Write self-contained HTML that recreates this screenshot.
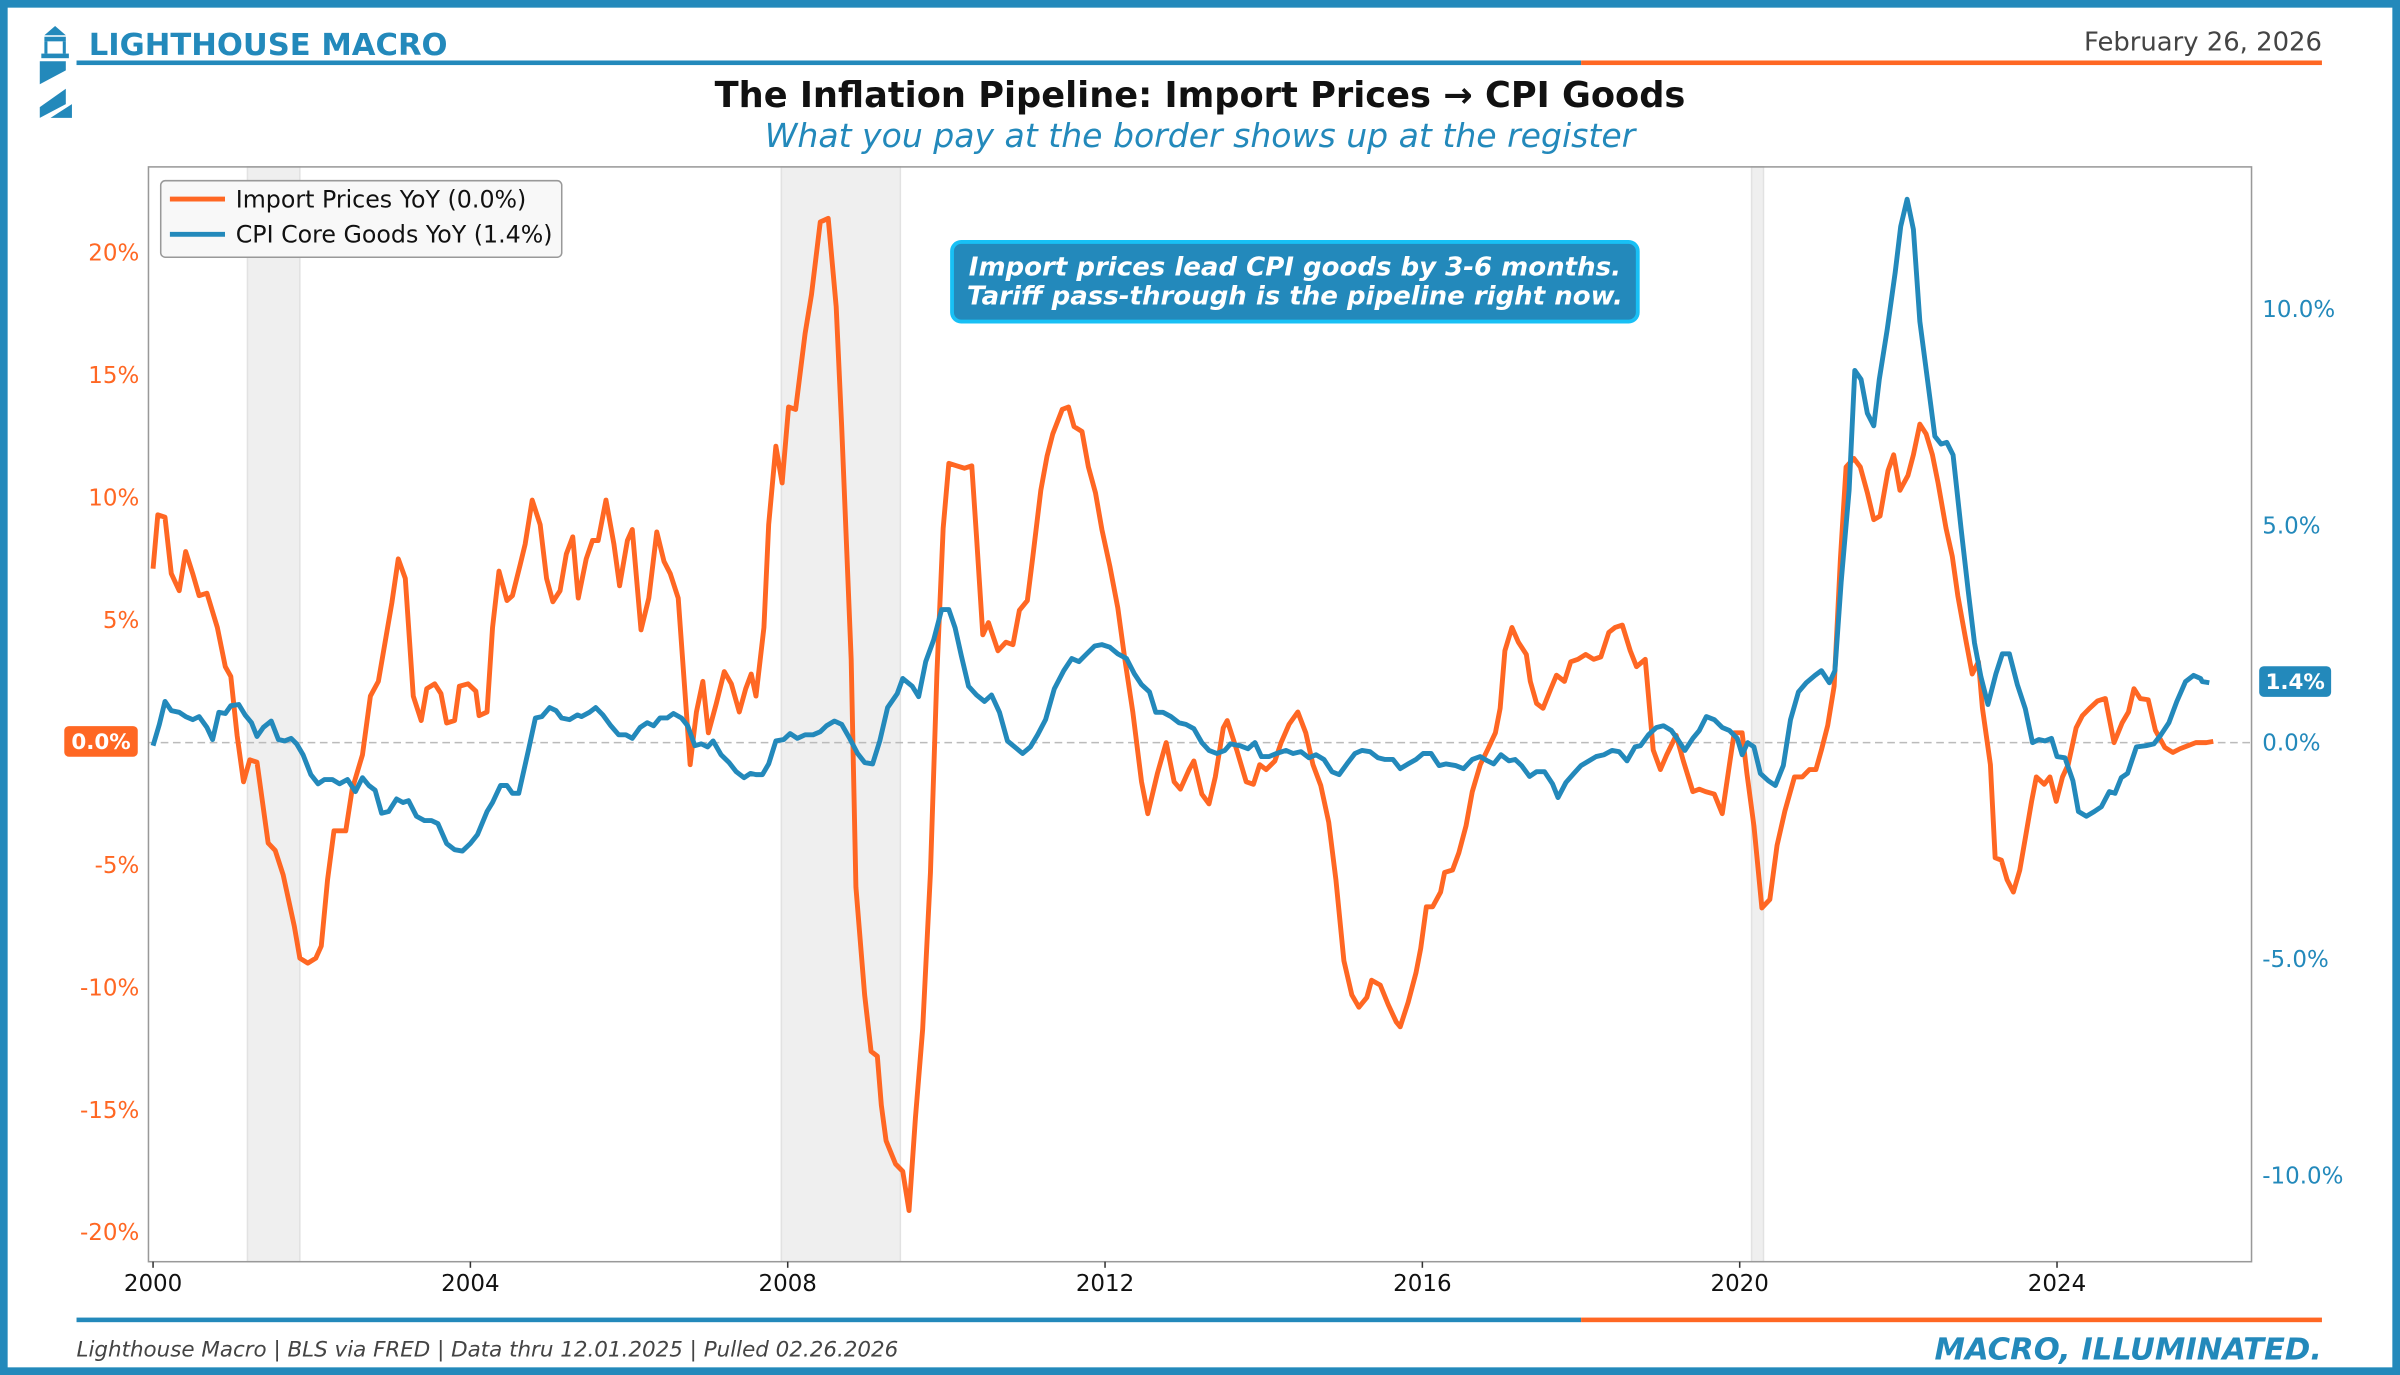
<!DOCTYPE html>
<html><head><meta charset="utf-8"><style>
html,body{margin:0;padding:0;background:#fff;}
svg{display:block;font-family:"DejaVu Sans","Liberation Sans",sans-serif;}
</style></head><body>
<svg id="chart" width="2400" height="1375" viewBox="0 0 1568 898" preserveAspectRatio="none" xmlns="http://www.w3.org/2000/svg">
<rect x="0" y="0" width="1568" height="898" fill="#fff"/>
<rect x="2.5" y="2.5" width="1563" height="893" fill="none" stroke="#2389bb" stroke-width="5"/>
<g fill="#2389bb">
<polygon points="36,17 29,23 43,23"/>
<rect x="29" y="24" width="14" height="3"/>
<rect x="29" y="27" width="2" height="8"/><rect x="41" y="27" width="2" height="8"/>
<rect x="27" y="35" width="18" height="3"/>
<polygon points="26,40 43,40 43,46 26,55"/>
<polygon points="26,70 43,58 43,68 26,77"/>
<polygon points="33,77 47,77 47,68"/>
</g>
<text x="58" y="36" font-size="20" font-weight="bold" fill="#2389bb">LIGHTHOUSE MACRO</text>
<text x="1517" y="33" font-size="16.9" fill="#444" text-anchor="end">February 26, 2026</text>
<rect x="50" y="39.5" width="983" height="3" fill="#2389bb"/>
<rect x="1033" y="39.5" width="484" height="3" fill="#ff6723"/>
<text x="784" y="70" font-size="23" font-weight="bold" fill="#111" text-anchor="middle">The Inflation Pipeline: Import Prices → CPI Goods</text>
<text x="784" y="96" font-size="21.6" font-style="italic" fill="#2389bb" text-anchor="middle">What you pay at the border shows up at the register</text>
<g id="plot"></g>
<rect x="50" y="860.5" width="983" height="3" fill="#2389bb"/>
<rect x="1033" y="860.5" width="484" height="3" fill="#ff6723"/>
<text x="50" y="886" font-size="14" font-style="italic" fill="#444">Lighthouse Macro | BLS via FRED | Data thru 12.01.2025 | Pulled 02.26.2026</text>
<text x="1517" y="888" font-size="20" font-style="italic" font-weight="bold" fill="#2389bb" text-anchor="end">MACRO, ILLUMINATED.</text>
</svg>
<script>
const importDates=[2000.00,2000.06,2000.15,2000.23,2000.33,2000.41,2000.50,2000.58,2000.68,2000.81,2000.91,2000.98,2001.06,2001.14,2001.22,2001.31,2001.45,2001.54,2001.64,2001.78,2001.85,2001.95,2002.05,2002.12,2002.20,2002.28,2002.35,2002.43,2002.51,2002.64,2002.74,2002.84,2003.01,2003.09,2003.18,2003.28,2003.38,2003.45,2003.55,2003.63,2003.70,2003.80,2003.86,2003.97,2004.07,2004.11,2004.21,2004.28,2004.36,2004.46,2004.53,2004.63,2004.69,2004.78,2004.88,2004.96,2005.04,2005.13,2005.21,2005.29,2005.36,2005.46,2005.54,2005.61,2005.71,2005.81,2005.88,2005.98,2006.04,2006.15,2006.25,2006.35,2006.44,2006.52,2006.62,2006.77,2006.85,2006.93,2007.00,2007.10,2007.20,2007.29,2007.39,2007.47,2007.54,2007.60,2007.70,2007.76,2007.85,2007.93,2008.01,2008.10,2008.22,2008.30,2008.41,2008.51,2008.61,2008.68,2008.80,2008.86,2008.97,2009.05,2009.13,2009.18,2009.24,2009.36,2009.45,2009.53,2009.61,2009.70,2009.80,2009.88,2009.96,2010.03,2010.13,2010.23,2010.32,2010.38,2010.46,2010.53,2010.65,2010.75,2010.84,2010.92,2011.02,2011.09,2011.19,2011.27,2011.34,2011.46,2011.54,2011.61,2011.71,2011.79,2011.88,2011.96,2012.06,2012.16,2012.25,2012.35,2012.46,2012.54,2012.66,2012.77,2012.87,2012.95,2013.06,2013.12,2013.22,2013.31,2013.39,2013.49,2013.54,2013.66,2013.78,2013.87,2013.95,2014.03,2014.14,2014.22,2014.32,2014.43,2014.53,2014.62,2014.72,2014.82,2014.91,2015.01,2015.11,2015.20,2015.30,2015.36,2015.47,2015.57,2015.67,2015.72,2015.82,2015.92,2015.98,2016.05,2016.13,2016.23,2016.28,2016.38,2016.46,2016.55,2016.63,2016.73,2016.82,2016.92,2016.98,2017.04,2017.13,2017.21,2017.31,2017.36,2017.44,2017.52,2017.62,2017.69,2017.79,2017.87,2017.96,2018.06,2018.16,2018.25,2018.35,2018.43,2018.52,2018.62,2018.70,2018.81,2018.91,2019.00,2019.08,2019.20,2019.29,2019.41,2019.49,2019.57,2019.68,2019.78,2019.87,2019.93,2020.03,2020.09,2020.18,2020.28,2020.38,2020.47,2020.57,2020.69,2020.79,2020.88,2020.96,2021.03,2021.11,2021.19,2021.27,2021.34,2021.44,2021.52,2021.61,2021.69,2021.77,2021.87,2021.94,2022.02,2022.12,2022.19,2022.27,2022.35,2022.43,2022.50,2022.60,2022.68,2022.75,2022.85,2022.93,2023.01,2023.06,2023.16,2023.22,2023.30,2023.37,2023.45,2023.53,2023.60,2023.68,2023.74,2023.84,2023.91,2023.99,2024.07,2024.14,2024.24,2024.32,2024.41,2024.51,2024.61,2024.72,2024.82,2024.90,2024.97,2025.05,2025.15,2025.24,2025.36,2025.46,2025.55,2025.67,2025.75,2025.88,2025.97];
const importValues=[7.1,9.3,9.2,6.9,6.2,7.8,6.9,6.0,6.1,4.7,3.1,2.7,0.3,-1.6,-0.7,-0.8,-4.1,-4.4,-5.4,-7.5,-8.8,-9.0,-8.8,-8.3,-5.6,-3.6,-3.6,-3.6,-1.9,-0.5,1.9,2.5,5.7,7.5,6.7,1.9,0.9,2.2,2.4,2.0,0.8,0.9,2.3,2.4,2.1,1.1,1.25,4.7,7.0,5.8,6.0,7.3,8.1,9.9,8.9,6.7,5.75,6.2,7.7,8.4,5.9,7.5,8.25,8.25,9.9,8.1,6.4,8.25,8.7,4.6,5.9,8.6,7.4,6.9,5.9,-0.9,1.25,2.5,0.4,1.6,2.9,2.4,1.25,2.2,2.8,1.9,4.7,8.9,12.1,10.6,13.7,13.6,16.7,18.3,21.25,21.4,17.8,12.9,3.4,-5.9,-10.3,-12.6,-12.8,-14.8,-16.25,-17.2,-17.5,-19.1,-15.3,-11.7,-5.3,2.8,8.75,11.4,11.3,11.2,11.3,8.4,4.4,4.9,3.75,4.1,4.0,5.4,5.8,7.6,10.3,11.7,12.6,13.6,13.7,12.9,12.7,11.25,10.2,8.7,7.2,5.5,3.4,1.25,-1.6,-2.9,-1.25,0,-1.6,-1.9,-1.1,-0.75,-2.1,-2.5,-1.4,0.6,0.9,-0.3,-1.6,-1.7,-0.9,-1.1,-0.75,0,0.75,1.25,0.4,-0.9,-1.75,-3.25,-5.6,-8.9,-10.3,-10.8,-10.4,-9.7,-9.9,-10.7,-11.4,-11.6,-10.6,-9.4,-8.4,-6.7,-6.7,-6.1,-5.3,-5.2,-4.5,-3.4,-2.0,-0.9,-0.3,0.4,1.4,3.75,4.7,4.1,3.6,2.5,1.6,1.4,2.2,2.75,2.5,3.3,3.4,3.6,3.4,3.5,4.5,4.7,4.8,3.75,3.1,3.4,-0.3,-1.1,-0.5,0.3,-0.75,-2.0,-1.9,-2.0,-2.1,-2.9,-0.9,0.4,0.4,-1.25,-3.4,-6.75,-6.4,-4.2,-2.8,-1.4,-1.4,-1.1,-1.1,-0.3,0.7,2.3,7.5,11.25,11.6,11.25,10.2,9.1,9.25,11.1,11.75,10.3,10.9,11.75,13.0,12.6,11.75,10.6,8.75,7.6,6.0,4.2,2.8,3.3,1.4,-0.9,-4.7,-4.8,-5.6,-6.1,-5.2,-3.9,-2.4,-1.4,-1.7,-1.4,-2.4,-1.4,-0.9,0.6,1.1,1.4,1.7,1.8,0,0.8,1.25,2.2,1.8,1.75,0.5,-0.2,-0.4,-0.25,-0.1,0,0,0.05];
const cpiDates=[2000.00,2000.08,2000.15,2000.23,2000.33,2000.41,2000.50,2000.58,2000.68,2000.75,2000.83,2000.91,2000.98,2001.08,2001.16,2001.24,2001.31,2001.39,2001.49,2001.58,2001.66,2001.74,2001.81,2001.89,2001.99,2002.08,2002.16,2002.26,2002.35,2002.45,2002.55,2002.64,2002.72,2002.80,2002.88,2002.97,2003.07,2003.15,2003.22,2003.32,2003.42,2003.51,2003.59,2003.70,2003.80,2003.90,2004.00,2004.09,2004.21,2004.28,2004.38,2004.46,2004.53,2004.61,2004.73,2004.82,2004.90,2005.00,2005.08,2005.15,2005.25,2005.35,2005.40,2005.50,2005.58,2005.67,2005.77,2005.87,2005.96,2006.04,2006.14,2006.23,2006.31,2006.39,2006.48,2006.56,2006.66,2006.74,2006.83,2006.91,2006.99,2007.06,2007.16,2007.26,2007.35,2007.45,2007.53,2007.60,2007.68,2007.76,2007.85,2007.95,2008.03,2008.12,2008.22,2008.32,2008.41,2008.49,2008.59,2008.68,2008.78,2008.88,2008.97,2009.07,2009.16,2009.26,2009.38,2009.45,2009.57,2009.65,2009.74,2009.84,2009.94,2010.03,2010.11,2010.19,2010.28,2010.38,2010.48,2010.57,2010.67,2010.77,2010.86,2010.96,2011.06,2011.15,2011.25,2011.36,2011.48,2011.58,2011.67,2011.77,2011.87,2011.96,2012.06,2012.16,2012.27,2012.37,2012.46,2012.56,2012.64,2012.73,2012.83,2012.93,2013.02,2013.12,2013.22,2013.31,2013.41,2013.51,2013.58,2013.70,2013.80,2013.89,2013.97,2014.07,2014.16,2014.28,2014.37,2014.47,2014.57,2014.66,2014.76,2014.86,2014.95,2015.05,2015.15,2015.24,2015.34,2015.44,2015.53,2015.63,2015.72,2015.82,2015.92,2016.01,2016.11,2016.21,2016.30,2016.42,2016.52,2016.63,2016.73,2016.82,2016.90,2016.99,2017.09,2017.17,2017.25,2017.35,2017.44,2017.54,2017.64,2017.71,2017.81,2017.91,2018.00,2018.10,2018.19,2018.29,2018.39,2018.48,2018.58,2018.68,2018.75,2018.85,2018.95,2019.04,2019.14,2019.22,2019.31,2019.41,2019.49,2019.58,2019.68,2019.78,2019.87,2019.97,2020.03,2020.10,2020.18,2020.26,2020.36,2020.45,2020.55,2020.64,2020.74,2020.84,2020.95,2021.03,2021.13,2021.20,2021.28,2021.38,2021.45,2021.53,2021.61,2021.69,2021.76,2021.86,2021.96,2022.03,2022.11,2022.19,2022.27,2022.36,2022.46,2022.54,2022.61,2022.69,2022.79,2022.88,2022.96,2023.04,2023.13,2023.23,2023.31,2023.40,2023.50,2023.60,2023.69,2023.77,2023.85,2023.93,2024.00,2024.10,2024.20,2024.27,2024.37,2024.47,2024.56,2024.66,2024.73,2024.81,2024.89,2025.00,2025.12,2025.22,2025.31,2025.41,2025.51,2025.62,2025.72,2025.81,2025.83,2025.92];
const cpiValues=[-0.07,0.42,0.95,0.74,0.7,0.6,0.53,0.6,0.35,0.07,0.7,0.67,0.85,0.88,0.64,0.46,0.14,0.35,0.5,0.07,0.04,0.1,-0.03,-0.28,-0.74,-0.95,-0.85,-0.85,-0.95,-0.85,-1.13,-0.81,-0.99,-1.1,-1.63,-1.59,-1.3,-1.38,-1.34,-1.7,-1.8,-1.8,-1.87,-2.33,-2.47,-2.5,-2.33,-2.12,-1.59,-1.38,-0.99,-0.99,-1.17,-1.17,-0.18,0.57,0.6,0.81,0.74,0.57,0.53,0.64,0.6,0.7,0.81,0.64,0.39,0.18,0.18,0.1,0.35,0.46,0.39,0.57,0.57,0.67,0.57,0.39,-0.07,-0.03,-0.1,0.04,-0.28,-0.46,-0.67,-0.81,-0.71,-0.74,-0.74,-0.49,0.04,0.07,0.21,0.1,0.18,0.18,0.25,0.39,0.5,0.42,0.1,-0.25,-0.46,-0.49,0.04,0.81,1.13,1.48,1.3,1.06,1.87,2.37,3.07,3.07,2.65,2.0,1.3,1.1,0.95,1.1,0.7,0.04,-0.1,-0.25,-0.1,0.18,0.53,1.24,1.66,1.94,1.87,2.05,2.23,2.26,2.2,2.05,1.94,1.59,1.34,1.17,0.7,0.7,0.6,0.46,0.42,0.32,0,-0.18,-0.25,-0.18,-0.03,-0.07,-0.14,0,-0.32,-0.32,-0.25,-0.18,-0.25,-0.21,-0.35,-0.28,-0.39,-0.67,-0.74,-0.49,-0.25,-0.18,-0.21,-0.35,-0.39,-0.39,-0.6,-0.49,-0.39,-0.25,-0.25,-0.53,-0.49,-0.53,-0.6,-0.39,-0.32,-0.42,-0.49,-0.28,-0.42,-0.39,-0.53,-0.78,-0.67,-0.67,-0.95,-1.27,-0.92,-0.71,-0.53,-0.42,-0.32,-0.28,-0.18,-0.21,-0.42,-0.1,-0.07,0.18,0.35,0.39,0.28,0.07,-0.18,0.1,0.28,0.6,0.53,0.35,0.28,0.1,-0.28,0,-0.1,-0.71,-0.88,-0.99,-0.53,0.53,1.17,1.38,1.55,1.66,1.38,1.66,3.71,5.83,8.59,8.38,7.6,7.31,8.38,9.54,10.85,11.91,12.54,11.84,9.72,8.48,7.07,6.89,6.93,6.64,4.95,3.5,2.3,1.52,0.88,1.59,2.05,2.05,1.34,0.78,0,0.07,0.04,0.1,-0.32,-0.35,-0.88,-1.59,-1.7,-1.59,-1.48,-1.13,-1.17,-0.81,-0.71,-0.1,-0.07,-0.03,0.18,0.46,0.95,1.41,1.55,1.48,1.41,1.38,1.41];
const recessionStarts=[2001.19,2007.92,2020.15];
const recessionEnds=[2001.85,2009.42,2020.30];
const xTickYears=[2000,2004,2008,2012,2016,2020,2024];
const leftTicks=[20,15,10,5,0,-5,-10,-15,-20];
const leftTickLabels=["20%","15%","10%","5%","0%","-5%","-10%","-15%","-20%"];
const rightTicks=[10,5,0,-5,-10];
const rightTickLabels=["10.0%","5.0%","0.0%","-5.0%","-10.0%"];
const importLatestLabel="0.0%";
const cpiLatestLabel="1.4%";

const NS="http://www.w3.org/2000/svg";
const PL=97,PR=1471,PT=109,PB=824;
const ORANGE="#ff6723",BLUE="#2389bb";
const xS=d=>100+(d-2000)*51.83;
const yL=v=>485-v*16.0;
const yR=v=>485-v*28.3;
const plot=document.getElementById("plot");
function mk(tag,attrs,parent){const e=document.createElementNS(NS,tag);for(const k in attrs)e.setAttribute(k,attrs[k]);(parent||plot).appendChild(e);return e;}

const bg=mk("rect",{x:PL,y:PT,width:PR-PL,height:PB-PT,fill:"#fff"});



recessionStarts.forEach((s,i)=>{
  const r=mk("rect",{x:xS(s),y:PT,width:xS(recessionEnds[i])-xS(s),height:PB-PT,fill:"#efefef",stroke:"#e2e2e2","stroke-width":1});
  
  
});

const zl=mk("line",{x1:PL,x2:PR,y1:yL(0),y2:yL(0),stroke:"#bbb","stroke-width":1,"stroke-dasharray":"5,3"});



function pathFor(ds,vs,ys){return ds.map((d,i)=>(i?"L":"M")+xS(d).toFixed(1)+","+ys(vs[i]).toFixed(1)).join("");}
const pi=mk("path",{d:pathFor(importDates,importValues,yL),fill:"none",stroke:ORANGE,"stroke-width":3.2,"stroke-linejoin":"round"});


const pc=mk("path",{d:pathFor(cpiDates,cpiValues,yR),fill:"none",stroke:BLUE,"stroke-width":3.2,"stroke-linejoin":"round"});



const fr=mk("rect",{x:PL,y:PT,width:PR-PL,height:PB-PT,fill:"none",stroke:"#999","stroke-width":1});



xTickYears.forEach(y=>{
  mk("line",{x1:xS(y),x2:xS(y),y1:PB,y2:PB+4,stroke:"#333","stroke-width":1});
  const t=mk("text",{x:xS(y),y:PB+19,"font-size":15,fill:"#111","text-anchor":"middle"});
  t.textContent=String(y);
  
  
});
leftTicks.forEach((v,i)=>{
  if(v===0)return;
  const t=mk("text",{x:91,y:yL(v)+5,"font-size":15,fill:ORANGE,"text-anchor":"end"});
  t.textContent=leftTickLabels[i];
  
  
});
rightTicks.forEach((v,i)=>{
  const t=mk("text",{x:1478,y:yR(v)+5,"font-size":15,fill:BLUE});
  t.textContent=rightTickLabels[i];
  
  
});

const lastI=importValues[importValues.length-1];
const bl=mk("rect",{x:42,y:yL(lastI)-10,width:48,height:20,rx:3,fill:ORANGE});


const blt=mk("text",{x:66,y:yL(lastI)+5,"font-size":14,"font-weight":"bold",fill:"#fff","text-anchor":"middle"});
blt.textContent=importLatestLabel;


const lastC=cpiValues[cpiValues.length-1];
const br=mk("rect",{x:1476,y:yR(lastC)-10,width:47,height:20,rx:3,fill:BLUE});


const brt=mk("text",{x:1499.5,y:yR(lastC)+5,"font-size":14,"font-weight":"bold",fill:"#fff","text-anchor":"middle"});
brt.textContent=cpiLatestLabel;



const lg=mk("g",{});


mk("rect",{x:105,y:118,width:262,height:50,rx:3,fill:"#f8f8f8",stroke:"#999","stroke-width":1},lg);
mk("line",{x1:111,x2:147,y1:130,y2:130,stroke:ORANGE,"stroke-width":3.2},lg);
const l1=mk("text",{x:154,y:135.5,"font-size":15.5,fill:"#111"},lg);
l1.textContent="Import Prices YoY (0.0%)";


mk("line",{x1:111,x2:147,y1:153,y2:153,stroke:BLUE,"stroke-width":3.2},lg);
const l2=mk("text",{x:154,y:158.5,"font-size":15.5,fill:"#111"},lg);
l2.textContent="CPI Core Goods YoY (1.4%)";



const an=mk("g",{});


mk("rect",{x:622,y:158,width:448,height:52,rx:6,fill:"#2389bb",stroke:"#18c0f5","stroke-width":2.5},an);
const a1=mk("text",{x:846,y:180,"font-size":17,"font-weight":"bold","font-style":"italic",fill:"#fff","text-anchor":"middle"},an);
a1.textContent="Import prices lead CPI goods by 3-6 months.";
const a2=mk("text",{x:846,y:199,"font-size":17,"font-weight":"bold","font-style":"italic",fill:"#fff","text-anchor":"middle"},an);
a2.textContent="Tariff pass-through is the pipeline right now.";
</script>
</body></html>
